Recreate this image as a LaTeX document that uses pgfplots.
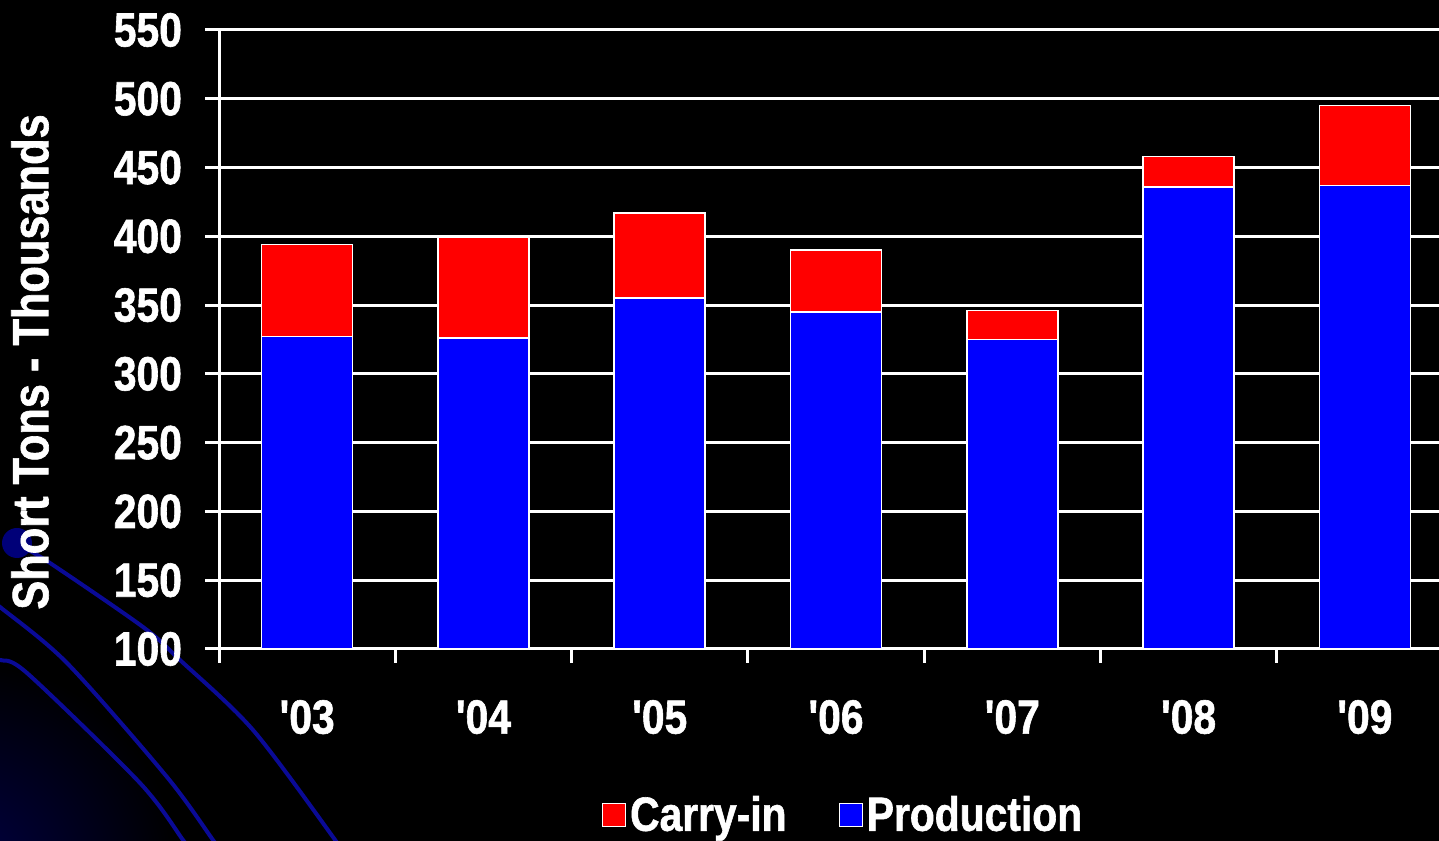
\documentclass[border=0pt]{standalone}
\usepackage{pgfplots}
\pgfplotsset{compat=1.18}
\usepackage{fontspec}
\newfontfamily\chartfont{Liberation Sans}[FakeStretch=0.85, BoldFeatures={FakeBold=1.2}]
\definecolor{deco}{RGB}{10,10,150}
\definecolor{dotblue}{RGB}{0,0,120}
\definecolor{corner}{RGB}{0,0,70}
\begin{document}
\begin{tikzpicture}
\useasboundingbox (0,0) rectangle (719.5pt,420pt);
\fill[black] (-5pt,-5pt) rectangle (725pt,425pt);
% decorative background
\shade[inner color=corner, outer color=black] (-20pt,-20pt) circle (110pt);
\fill[dotblue] (8.5pt,148.5pt) circle (7.5pt);
\draw[deco, line width=2pt] plot[smooth] coordinates {(12pt,146pt) (25pt,138.5pt) (71.5pt,106.5pt) (90pt,90pt) (126.5pt,55pt) (166.5pt,1.5pt) (168pt,-2pt)};
\draw[deco, line width=2pt] plot[smooth] coordinates {(-2pt,118pt) (0pt,116.5pt) (33.5pt,88.5pt) (83.5pt,31.5pt) (106.5pt,0pt) (108pt,-2pt)};
\draw[deco, line width=2pt] plot[smooth] coordinates {(-2pt,91pt) (0pt,90pt) (13.5pt,83.5pt) (70pt,28.5pt) (91.5pt,0pt) (93pt,-2pt)};
\begin{axis}[
  at={(109.5pt,95.5pt)}, anchor=south west,
  scale only axis, width=617pt, height=309.5pt,
  xmin=0, xmax=7, ymin=100, ymax=550,
  ybar stacked, bar width=45.5pt,
  axis x line=bottom, axis y line=left,
  axis line style={white, line width=1.5pt, -},
  xtick={0,1,2,3,4,5,6,7},
  xticklabels={'03,'04,'05,'06,'07,'08,'09},
  x tick label as interval,
  ytick={100,150,200,250,300,350,400,450,500,550},
  ymajorgrids, grid style={white, line width=1.5pt},
  tick style={white, line width=1.5pt},
  tick align=outside, major tick length=7pt,
  /pgf/number format/assume math mode=true,
  tick label style={text=white, font=\chartfont\bfseries\fontsize{24}{28}\selectfont},
  yticklabel style={xshift=-8pt},
  xticklabel style={yshift=-15pt},
  reverse legend,
  legend columns=2,
  legend style={at={(axis description cs:0.5065,-0.268)}, anchor=center,
    draw=none, fill=none, text=white,
    font=\chartfont\bfseries\fontsize{24}{28}\selectfont,
    /tikz/every even column/.append style={column sep=24pt}},
  legend image code/.code={\draw[#1, draw=white, line width=0.6pt] (0pt,-5.75pt) rectangle (11.5pt,5.75pt);},
]
\addplot[fill=blue, draw=white, line width=0.75pt] coordinates {
  (0.5,327) (1.5,326) (2.5,355) (3.5,345) (4.5,325) (5.5,436) (6.5,437)};
\addplot[fill=red, draw=white, line width=0.75pt] coordinates {
  (0.5,67) (1.5,73) (2.5,62) (3.5,45) (4.5,21) (5.5,22) (6.5,58)};
\legend{Production, Carry-in}
\end{axis}
\node[rotate=90, text=white, font=\chartfont\bfseries\fontsize{25.5}{30}\selectfont] at (15pt,239pt) {Short Tons - Thousands};
\end{tikzpicture}
\end{document}
